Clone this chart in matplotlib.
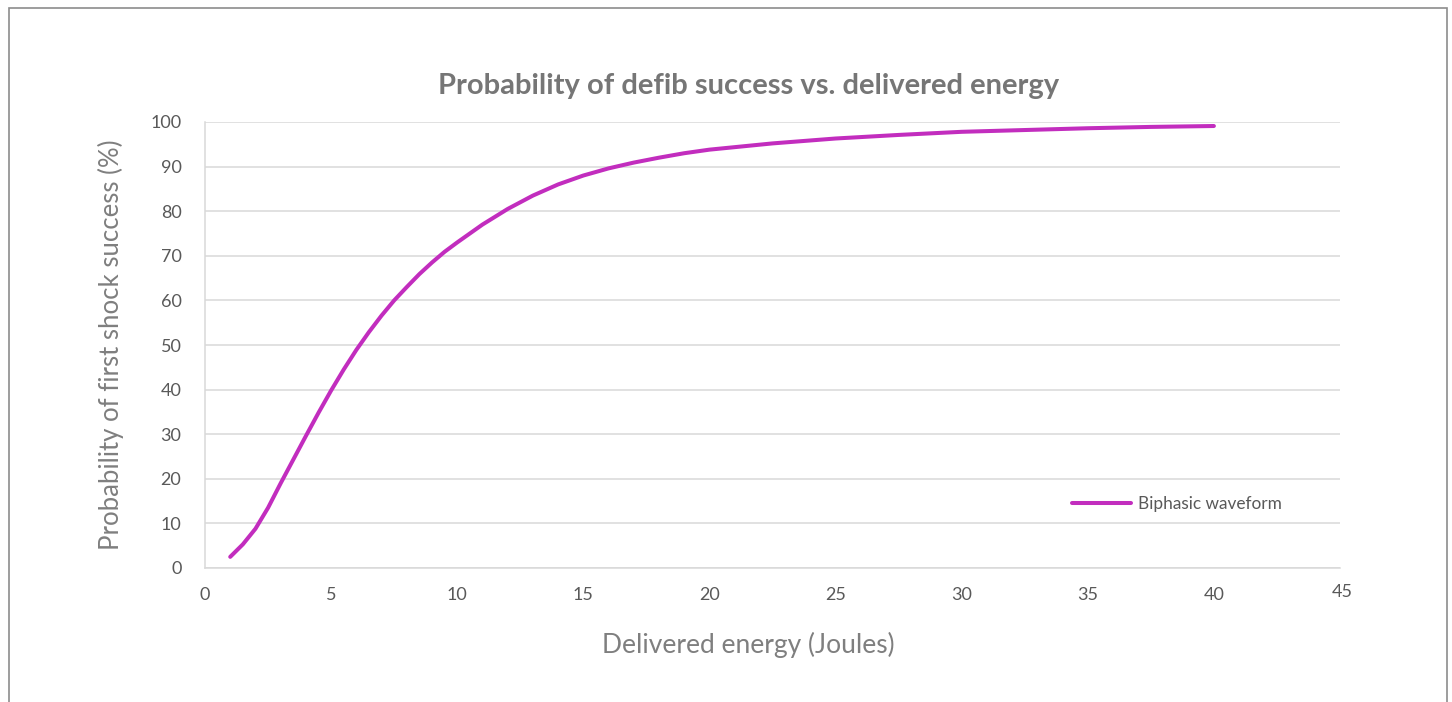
"""Probability of defib success vs. delivered energy (biphasic waveform)."""

import matplotlib

matplotlib.use("Agg")
import matplotlib.pyplot as plt
import matplotlib.transforms as mtransforms
from matplotlib.patches import Rectangle

# values
energy_joules = [1, 1.5, 2, 2.5, 3, 3.5, 4, 4.5, 5, 5.5, 6, 6.5, 7, 7.5, 8,
                 8.5, 9, 9.5, 10, 11, 12, 13, 14, 15, 16, 17, 18, 19, 20,
                 22.5, 25, 27.5, 30, 32.5, 35, 37.5, 40]
success_pct = [2.5, 5.3, 8.8, 13.5, 19.0, 24.3, 29.6, 34.8, 39.8, 44.5,
               48.9, 52.9, 56.6, 60.0, 63.0, 65.9, 68.5, 70.9, 73.0, 77.0,
               80.5, 83.5, 86.0, 88.0, 89.6, 90.9, 92.0, 93.0, 93.8, 95.2,
               96.3, 97.1, 97.8, 98.2, 98.6, 98.9, 99.1]
series_name = "Biphasic waveform"
x_ticks = [0, 5, 10, 15, 20, 25, 30, 35, 40, 45]
y_ticks = [0, 10, 20, 30, 40, 50, 60, 70, 80, 90, 100]

LINE_COLOR = "#C22DBE"
GRID_COLOR = "#D9D9D9"
TICK_COLOR = "#595959"
LABEL_COLOR = "#7F7F7F"

plt.rcParams["font.family"] = ["Lato", "DejaVu Sans"]

fig = plt.figure(figsize=(14.52, 7.02), dpi=100)
ax = fig.add_axes([205 / 1452, 1 - 568 / 702, (1340 - 205) / 1452, (568 - 122) / 702])

ax.plot(energy_joules, success_pct, color=LINE_COLOR, linewidth=2.9,
        solid_capstyle="round", solid_joinstyle="round", label=series_name)

ax.set_xlim(0, 45)
ax.set_ylim(0, 100)
ax.set_xticks(x_ticks)
ax.set_yticks(y_ticks)
ax.grid(axis="y", color=GRID_COLOR, linewidth=1.1)
ax.set_axisbelow(True)
for side in ("top", "right"):
    ax.spines[side].set_visible(False)
for side in ("left", "bottom"):
    ax.spines[side].set_color(GRID_COLOR)
    ax.spines[side].set_linewidth(1.1)
ax.tick_params(length=0, labelsize=13, labelcolor=TICK_COLOR)
ax.tick_params(axis="x", pad=14)
ax.tick_params(axis="y", pad=17)

# the last x label sits a little higher in the reference
last = ax.get_xticklabels()[-1]
last.set_transform(last.get_transform()
                   + mtransforms.ScaledTranslation(2 / 100, 3 / 100, fig.dpi_scale_trans))

# titles are centred on the chart area, not on the plot area
ax.set_xlabel("Delivered energy (Joules)", fontsize=19, color=LABEL_COLOR)
ax.xaxis.set_label_coords((748 - 205) / 1135, -(645 - 568) / 446)
ax.xaxis.label.set_va("center")
ax.set_ylabel("Probability of first shock success (%)", fontsize=18.5,
              color=LABEL_COLOR)
ax.yaxis.set_label_coords(-(205 - 111) / 1135, 0.5)
ax.yaxis.label.set_va("center")
fig.suptitle("Probability of defib success vs. delivered energy", fontsize=21,
             fontweight="bold", color="#767676", x=748.5 / 1452,
             y=1 - 86 / 702, va="center")

ax.legend(loc="center left", bbox_to_anchor=(0.764, 0.1435), frameon=False,
          fontsize=12.4, handlelength=3.4, handletextpad=0.4, borderpad=0,
          borderaxespad=0, labelcolor=TICK_COLOR)

fig.add_artist(Rectangle((9 / 1452, -0.05), (1447 - 9) / 1452, 1 - 8 / 702 + 0.05,
                         transform=fig.transFigure, fill=False,
                         edgecolor="#8C8C8C", linewidth=1.2))

fig.savefig("out.png", dpi=100, facecolor="white")
